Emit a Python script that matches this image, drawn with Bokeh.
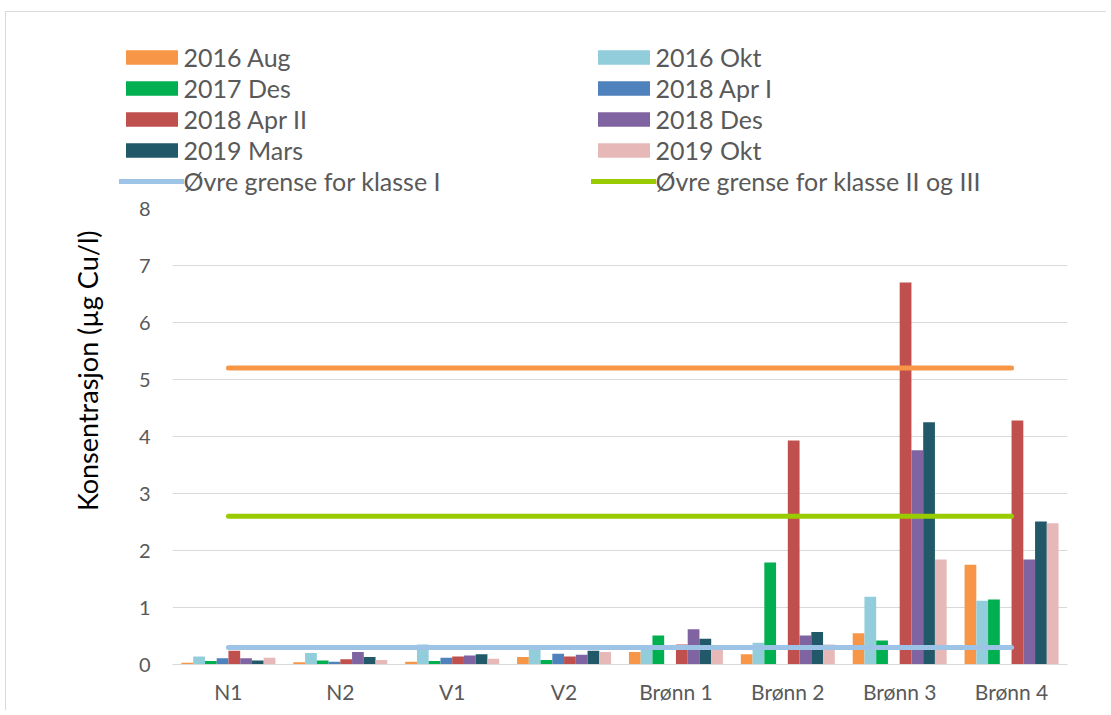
from bokeh.plotting import figure
from bokeh.models import (ColumnDataSource, FactorRange, Range1d, FixedTicker, Legend,
                          LegendItem)
from bokeh.layouts import column, row
from bokeh.transform import dodge
from bokeh.embed import file_html
from bokeh.resources import INLINE

nan = float("nan")

categories = ["N1", "N2", "V1", "V2", "Brønn 1", "Brønn 2", "Brønn 3", "Brønn 4"]

series_names = ["2016 Aug", "2016 Okt", "2017 Des", "2018 Apr I",
                "2018 Apr II", "2018 Des", "2019 Mars", "2019 Okt"]

aug_2016   = [0.03, 0.04, 0.05, 0.13, 0.22, 0.18, 0.55, 1.75]
okt_2016   = [0.14, 0.20, 0.35, 0.29, 0.32, 0.38, 1.19, 1.12]
des_2017   = [0.06, 0.07, 0.06, 0.08, 0.51, 1.79, 0.42, 1.14]
apr1_2018  = [0.11, 0.05, 0.12, 0.19, nan, nan, nan, nan]
apr2_2018  = [0.24, 0.09, 0.14, 0.14, 0.35, 3.93, 6.70, 4.28]
des_2018   = [0.11, 0.22, 0.16, 0.17, 0.62, 0.51, 3.76, 1.84]
mars_2019  = [0.07, 0.13, 0.18, 0.24, 0.45, 0.57, 4.25, 2.51]
okt_2019   = [0.12, 0.08, 0.10, 0.22, 0.28, 0.35, 1.84, 2.48]

series_values = [aug_2016, okt_2016, des_2017, apr1_2018,
                 apr2_2018, des_2018, mars_2019, okt_2019]

series_colors = ["#F79646", "#92CDDC", "#00B050", "#4F81BD",
                 "#C0504D", "#8064A2", "#215968", "#E6B9B8"]

threshold_names = ["Øvre grense for klasse I", "Øvre grense for klasse II og III", None]
threshold_values = [0.3, 2.6, 5.2]
threshold_colors = ["#9DC3E6", "#99CC00", "#F79646"]

y_ticks = [0, 1, 2, 3, 4, 5, 6, 7, 8]
y_title = "Konsentrasjon (µg Cu/l)"

FONT = "Lato"

data = {"cat": categories}
keys = []
for i, vals in enumerate(series_values):
    k = f"s{i}"
    keys.append(k)
    data[k] = vals
source = ColumnDataSource(data)

# ---------------- main chart ----------------
p = figure(x_range=FactorRange(factors=categories, range_padding=0),
           y_range=Range1d(0, 8),
           width=1100, height=514,
           min_border_left=166, min_border_right=39,
           min_border_top=12, min_border_bottom=46,
           output_backend="svg", toolbar_location=None)

p.outline_line_color = None
p.background_fill_color = "white"
p.border_fill_color = "white"

bar_w = 0.105
for i, k in enumerate(keys):
    off = (i - 3.5) * bar_w
    p.vbar(x=dodge("cat", off, range=p.x_range), top=k, width=bar_w,
           source=source, fill_color=series_colors[i], line_color=None)

for v, c in zip(threshold_values, threshold_colors):
    p.line(x=[categories[0], categories[-1]], y=[v, v], line_color=c,
           line_width=5, line_cap="round")

p.yaxis.ticker = FixedTicker(ticks=y_ticks)
p.ygrid.ticker = FixedTicker(ticks=y_ticks)
p.ygrid.grid_line_color = "#D9D9D9"
p.ygrid.grid_line_width = 1
p.xgrid.grid_line_color = None

p.yaxis.axis_line_color = None
p.yaxis.major_tick_line_color = None
p.yaxis.minor_tick_line_color = None
p.yaxis.major_label_text_font = FONT
p.yaxis.major_label_text_font_size = "20px"
p.yaxis.major_label_text_color = "#595959"
p.yaxis.major_label_standoff = 16
# leading no-break spaces shift the centred title upwards, as in the original
p.yaxis.axis_label = "\u00a0" * 19 + y_title
p.yaxis.axis_label_text_font = FONT
p.yaxis.axis_label_text_font_size = "27px"
p.yaxis.axis_label_text_font_style = "normal"
p.yaxis.axis_label_text_color = "#000000"
p.yaxis.axis_label_standoff = 32

p.xaxis.axis_line_color = "#D9D9D9"
p.xaxis.axis_line_width = 1
p.xaxis.major_tick_line_color = None
p.xaxis.minor_tick_line_color = None
p.xaxis.major_label_text_font = FONT
p.xaxis.major_label_text_font_size = "21px"
p.xaxis.major_label_text_color = "#595959"
p.xaxis.major_label_standoff = 8

# ---------------- legend panel ----------------
lf = figure(x_range=Range1d(1, 2), y_range=Range1d(1, 2), width=1100, height=184,
            min_border=0, output_backend="svg", toolbar_location=None)
lf.axis.visible = False
lf.grid.grid_line_color = None
lf.outline_line_color = None
lf.background_fill_color = "white"
lf.border_fill_color = "white"

proxy_bars = [lf.vbar(x=[0], top=[0], width=0, fill_color=c, line_color=None)
              for c in series_colors]
proxy_lines = [lf.line(x=[0, 0], y=[0, 0], line_color=c, line_width=5, line_cap="round")
               for c in threshold_colors[:2]]

# column-major order: left column then right column
order = [(series_names[0], proxy_bars[0]), (series_names[2], proxy_bars[2]),
         (series_names[4], proxy_bars[4]), (series_names[6], proxy_bars[6]),
         (threshold_names[0], proxy_lines[0]),
         (series_names[1], proxy_bars[1]), (series_names[3], proxy_bars[3]),
         (series_names[5], proxy_bars[5]), (series_names[7], proxy_bars[7]),
         (threshold_names[1], proxy_lines[1])]

legend = Legend(items=[LegendItem(label=l, renderers=[r]) for l, r in order],
                location=(112.5, 0), orientation="vertical", ncols=2,
                glyph_width=65, glyph_height=18, label_height=30, label_width=406,
                label_standoff=0, spacing=1, padding=0, margin=0,
                border_line_color=None, background_fill_alpha=0,
                label_text_font=FONT, label_text_font_size="25px",
                label_text_color="#595959")
lf.add_layout(legend, "center")

layout = column(row(lf), p, spacing=0,
                styles={"border-top": "1px solid #D9D9D9",
                        "border-left": "1px solid #D9D9D9",
                        "margin-top": "11px", "margin-left": "5px"})

open("out.html", "w").write(file_html(layout, INLINE))
